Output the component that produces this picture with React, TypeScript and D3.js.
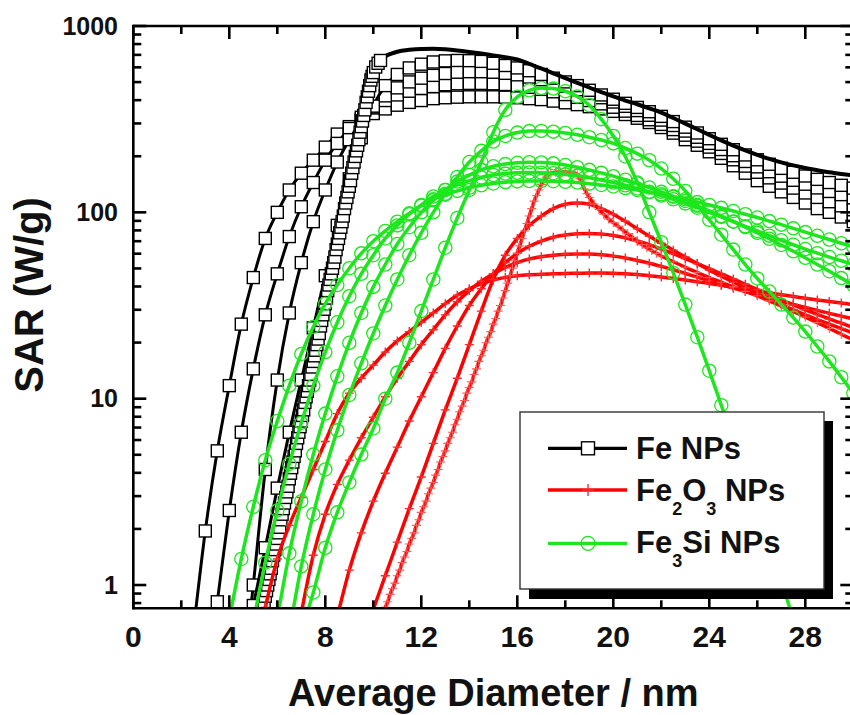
import React from "react";
import * as d3 from "d3";

const W = 850;
const H = 715;
const PLOT = { left: 133.3, right: 853.3, top: 26, bottom: 608.3 };

// ---- axes ----
const X_DOMAIN = [0, 30];
const Y_DOMAIN = [0.75, 1000];
const X_TICKS = [0, 4, 8, 12, 16, 20, 24, 28];
const X_MINOR = [2, 6, 10, 14, 18, 22, 26, 30];
const Y_TICKS = [1, 10, 100, 1000];
const Y_MINOR = [0.8, 0.9, 2, 3, 4, 5, 6, 7, 8, 9, 20, 30, 40, 50, 60, 70, 80, 90, 200, 300, 400, 500, 600, 700, 800, 900];

// ---- shared diameter grid (nm) ----
const DIAMETERS = [
  2.5, 3, 3.5, 4, 4.5, 5, 5.5, 6, 6.5, 7,
  7.5, 8, 8.5, 9, 9.5, 10, 10.5, 11, 11.5, 12,
  12.5, 13, 13.5, 14, 14.5, 15, 15.5, 16, 16.5, 17,
  17.5, 18, 18.5, 19, 19.5, 20, 20.5, 21, 21.5, 22,
  22.5, 23, 23.5, 24, 24.5, 25, 25.5, 26, 26.5, 27,
  27.5, 28, 28.5, 29, 29.5, 30,
];
const _ = null;

// ---- Fe NPs : log10(SAR, W/g) on DIAMETERS ----
const FE_S1 = [
  -0.25, 0.29, 0.72, 1.07, 1.40, 1.65, 1.86, 2.00, 2.12, 2.21,
  2.28, 2.35, 2.42, 2.46, 2.50, 2.53, 2.555, 2.575, 2.59, 2.60,
  2.61, 2.615, 2.618, 2.62, 2.62, 2.62, 2.618, 2.615, 2.61, 2.605,
  2.597, 2.588, 2.578, 2.567, 2.555, 2.542, 2.525, 2.505, 2.482, 2.455,
  2.425, 2.39, 2.36, 2.325, 2.29, 2.25, 2.21, 2.17, 2.14, 2.11,
  2.08, 2.05, 2.02, 2.0, 1.975, 1.95,
];
const FE_S2 = [
  _, -0.55, -0.09, 0.40, 0.82, 1.16, 1.45, 1.67, 1.87, 2.03,
  2.16, 2.28, 2.37, 2.45, 2.51, 2.56, 2.60, 2.63, 2.65, 2.665,
  2.675, 2.685, 2.69, 2.692, 2.692, 2.69, 2.686, 2.68, 2.671, 2.66,
  2.647, 2.632, 2.617, 2.6, 2.582, 2.564, 2.543, 2.52, 2.497, 2.472,
  2.444, 2.414, 2.382, 2.35, 2.316, 2.282, 2.248, 2.215, 2.185, 2.157,
  2.13, 2.104, 2.08, 2.057, 2.035, 2.015,
];
const FE_S3 = [
  _, _, _, _, -0.6, 0.0, 0.62, 1.1, 1.46, 1.73,
  1.95, 2.12, 2.27, 2.39, 2.49, 2.565, 2.625, 2.668, 2.70, 2.72,
  2.735, 2.745, 2.752, 2.755, 2.755, 2.752, 2.746, 2.738, 2.726, 2.712,
  2.695, 2.677, 2.658, 2.638, 2.615, 2.592, 2.569, 2.546, 2.521, 2.495,
  2.466, 2.436, 2.403, 2.37, 2.337, 2.304, 2.273, 2.244, 2.218, 2.194,
  2.172, 2.151, 2.131, 2.112, 2.095, 2.078,
];
const FE_S4 = [
  _, _, _, _, -0.4, -0.11, 0.2, 0.52, 0.82, 1.1,
  1.38, 1.66, 1.93, 2.18, 2.4, 2.57, 2.68, 2.74, 2.775, 2.795,
  2.807, 2.813, 2.815, 2.814, 2.81, 2.8, 2.788, 2.775, 2.76, 2.74,
  2.72, 2.7, 2.68, 2.655, 2.63, 2.607, 2.585, 2.563, 2.54, 2.515,
  2.487, 2.457, 2.426, 2.395, 2.365, 2.336, 2.308, 2.282, 2.258, 2.236,
  2.215, 2.195, 2.177, 2.16, 2.145, 2.13,
];
// narrowest Fe distribution: densely sampled [diameter, log10 SAR]
const FE_S5: [number, number][] = [
  [5.30, -0.19], [5.35, -0.16], [5.40, -0.13], [5.45, -0.10], [5.50, -0.06], [5.55, -0.03], [5.60, 0.00], [5.65, 0.03], [5.70, 0.06], [5.75, 0.09],
  [5.80, 0.13], [5.85, 0.16], [5.90, 0.19], [5.95, 0.22], [6.00, 0.25], [6.05, 0.28], [6.10, 0.31], [6.15, 0.35], [6.20, 0.38], [6.25, 0.41],
  [6.30, 0.44], [6.35, 0.47], [6.40, 0.50], [6.45, 0.53], [6.50, 0.57], [6.55, 0.60], [6.60, 0.63], [6.65, 0.66], [6.70, 0.69], [6.75, 0.72],
  [6.80, 0.76], [6.85, 0.79], [6.90, 0.82], [6.95, 0.85], [7.00, 0.88], [7.05, 0.91], [7.10, 0.94], [7.15, 0.98], [7.20, 1.01], [7.25, 1.04],
  [7.30, 1.07], [7.35, 1.10], [7.40, 1.13], [7.45, 1.17], [7.50, 1.20], [7.55, 1.23], [7.60, 1.26], [7.65, 1.29], [7.70, 1.32], [7.75, 1.35],
  [7.80, 1.39], [7.85, 1.42], [7.90, 1.45], [7.95, 1.48], [8.00, 1.51], [8.05, 1.54], [8.10, 1.58], [8.15, 1.61], [8.20, 1.64], [8.25, 1.67],
  [8.30, 1.70], [8.35, 1.73], [8.40, 1.76], [8.45, 1.80], [8.50, 1.83], [8.55, 1.86], [8.60, 1.89], [8.65, 1.92], [8.70, 1.95], [8.75, 1.98],
  [8.80, 2.02], [8.85, 2.05], [8.90, 2.08], [8.95, 2.11], [9.00, 2.14], [9.05, 2.17], [9.10, 2.21], [9.15, 2.24], [9.20, 2.27], [9.25, 2.30],
  [9.30, 2.33], [9.35, 2.36], [9.40, 2.39], [9.45, 2.43], [9.50, 2.46], [9.55, 2.49], [9.60, 2.52], [9.65, 2.55], [9.70, 2.59], [9.75, 2.62],
  [9.80, 2.65], [9.85, 2.68], [9.90, 2.71], [9.95, 2.73], [10.00, 2.75], [10.10, 2.78], [10.20, 2.80], [10.30, 2.815], [10.40, 2.827], [10.50, 2.837],
  [10.75, 2.852], [11.0, 2.862], [11.5, 2.872], [12.0, 2.877], [12.5, 2.878], [13.0, 2.875], [13.5, 2.869], [14.0, 2.861], [14.5, 2.852], [15.0, 2.842],
  [15.5, 2.832], [16.0, 2.82], [16.5, 2.797], [17.0, 2.772], [17.5, 2.746], [18.0, 2.72], [18.5, 2.695], [19.0, 2.67], [19.5, 2.645], [20.0, 2.622],
  [20.5, 2.6], [21.0, 2.58], [21.5, 2.558], [22.0, 2.535], [22.5, 2.506], [23.0, 2.476], [23.5, 2.446], [24.0, 2.416], [24.5, 2.386], [25.0, 2.358],
  [25.5, 2.332], [26.0, 2.308], [26.5, 2.287], [27.0, 2.268], [27.5, 2.252], [28.0, 2.238], [28.5, 2.226], [29.0, 2.215], [29.5, 2.206], [30.0, 2.198],
];

// ---- Fe2O3 NPs : log10(SAR) ----
const FE2O3_S1 = [
  _, _, _, _, _, -0.42, -0.12, 0.14, 0.32, 0.47,
  0.62, 0.77, 0.92, 1.03, 1.11, 1.18, 1.25, 1.31, 1.36, 1.41,
  1.46, 1.51, 1.555, 1.59, 1.617, 1.637, 1.651, 1.66, 1.665, 1.668,
  1.67, 1.672, 1.673, 1.674, 1.674, 1.673, 1.67, 1.666, 1.66, 1.653,
  1.645, 1.637, 1.628, 1.618, 1.608, 1.598, 1.588, 1.578, 1.568, 1.558,
  1.548, 1.539, 1.53, 1.521, 1.513, 1.505,
];
const FE2O3_S2 = [
  _, _, _, _, _, _, _, _, _, -0.15,
  0.16, 0.38, 0.54, 0.67, 0.79, 0.9, 1.01, 1.11, 1.2, 1.29,
  1.37, 1.45, 1.52, 1.58, 1.63, 1.67, 1.705, 1.73, 1.75, 1.762,
  1.77, 1.775, 1.777, 1.776, 1.772, 1.765, 1.755, 1.742, 1.727, 1.71,
  1.692, 1.672, 1.652, 1.632, 1.612, 1.593, 1.575, 1.557, 1.54, 1.523,
  1.506, 1.49, 1.474, 1.458, 1.443, 1.428,
];
const FE2O3_S3 = [
  _, _, _, _, _, _, _, _, _, _,
  _, _, -0.17, 0.08, 0.28, 0.45, 0.6, 0.74, 0.88, 1.01,
  1.14, 1.27, 1.39, 1.5, 1.59, 1.67, 1.73, 1.78, 1.818, 1.846,
  1.866, 1.878, 1.885, 1.887, 1.884, 1.876, 1.863, 1.846, 1.826, 1.803,
  1.778, 1.752, 1.725, 1.698, 1.67, 1.642, 1.614, 1.586, 1.558, 1.53,
  1.503, 1.477, 1.452, 1.428, 1.405, 1.382,
];
const FE2O3_S4 = [
  _, _, _, _, _, _, _, _, _, _,
  _, _, _, _, _, -0.13, 0.05, 0.23, 0.41, 0.58,
  0.76, 0.94, 1.11, 1.29, 1.47, 1.64, 1.77, 1.86, 1.93, 1.98,
  2.02, 2.043, 2.05, 2.043, 2.02, 1.99, 1.952, 1.912, 1.872, 1.834,
  1.797, 1.76, 1.725, 1.69, 1.657, 1.625, 1.594, 1.564, 1.534, 1.505,
  1.477, 1.45, 1.424, 1.4, 1.376, 1.352,
];
// narrowest Fe2O3 distribution: densely sampled [diameter, log10 SAR]
const FE2O3_S5: [number, number][] = [
  [10.4, -0.15], [10.5, -0.12], [10.6, -0.09], [10.7, -0.05], [10.8, -0.02], [10.9, 0.01], [11.0, 0.05], [11.1, 0.08], [11.2, 0.12], [11.3, 0.15],
  [11.4, 0.18], [11.5, 0.22], [11.6, 0.25], [11.7, 0.28], [11.8, 0.32], [11.9, 0.35], [12.0, 0.39], [12.1, 0.42], [12.2, 0.45], [12.3, 0.49],
  [12.4, 0.52], [12.5, 0.55], [12.6, 0.59], [12.7, 0.62], [12.8, 0.66], [12.9, 0.69], [13.0, 0.72], [13.1, 0.76], [13.2, 0.79], [13.3, 0.82],
  [13.4, 0.86], [13.5, 0.89], [13.6, 0.93], [13.7, 0.96], [13.8, 0.99], [13.9, 1.03], [14.0, 1.06], [14.1, 1.09], [14.2, 1.13], [14.3, 1.16],
  [14.4, 1.20], [14.5, 1.23], [14.6, 1.26], [14.7, 1.30], [14.8, 1.33], [14.9, 1.36], [15.0, 1.40], [15.1, 1.43], [15.2, 1.47], [15.3, 1.50],
  [15.4, 1.54], [15.5, 1.58], [15.6, 1.62], [15.7, 1.66], [15.8, 1.70], [15.9, 1.74], [16.0, 1.78], [16.1, 1.82], [16.2, 1.86], [16.3, 1.90],
  [16.4, 1.94], [16.5, 1.98], [16.6, 2.02], [16.7, 2.06], [16.8, 2.09], [16.9, 2.12], [17.0, 2.15], [17.1, 2.17], [17.2, 2.19], [17.3, 2.203],
  [17.4, 2.21], [17.6, 2.215], [17.8, 2.217], [18.0, 2.217], [18.2, 2.215], [18.4, 2.21], [18.5, 2.2], [18.6, 2.18], [18.7, 2.155], [18.8, 2.125],
  [18.9, 2.1], [19.0, 2.08], [19.2, 2.045], [19.4, 2.015], [19.6, 1.99], [19.8, 1.965], [20.0, 1.945], [20.2, 1.925], [20.4, 1.905], [20.6, 1.885],
  [20.8, 1.865], [21.0, 1.845], [21.2, 1.827], [21.4, 1.81], [21.6, 1.795], [21.8, 1.78], [22.0, 1.766], [22.5, 1.735], [23.0, 1.705], [23.5, 1.677],
  [24.0, 1.65], [24.5, 1.625], [25.0, 1.6], [25.5, 1.576], [26.0, 1.552], [26.5, 1.525], [27.0, 1.497], [27.5, 1.468], [28.0, 1.438], [28.5, 1.408],
  [29.0, 1.377], [29.5, 1.346], [30.0, 1.315],
];

// ---- Fe3Si NPs : log10(SAR) ----
const FE3SI_S1 = [
  _, _, -0.5, -0.18, 0.14, 0.42, 0.67, 0.88, 1.07, 1.24,
  1.385, 1.51, 1.61, 1.7, 1.78, 1.845, 1.9, 1.95, 1.995, 2.035,
  2.07, 2.095, 2.115, 2.132, 2.145, 2.155, 2.162, 2.166, 2.168, 2.168,
  2.167, 2.164, 2.16, 2.154, 2.147, 2.139, 2.13, 2.12, 2.109, 2.097,
  2.084, 2.07, 2.055, 2.04, 2.024, 2.007, 1.99, 1.972, 1.953, 1.934,
  1.914, 1.894, 1.874, 1.854, 1.834, 1.815,
];
const FE3SI_S2 = [
  _, _, _, _, _, -0.2, 0.12, 0.4, 0.65, 0.87,
  1.07, 1.25, 1.41, 1.55, 1.67, 1.77, 1.86, 1.93, 1.99, 2.04,
  2.085, 2.12, 2.148, 2.17, 2.187, 2.2, 2.208, 2.212, 2.214, 2.213,
  2.21, 2.204, 2.196, 2.186, 2.174, 2.16, 2.145, 2.128, 2.11, 2.09,
  2.07, 2.048, 2.025, 2.0, 1.975, 1.95, 1.925, 1.9, 1.875, 1.85,
  1.826, 1.803, 1.781, 1.76, 1.74, 1.72,
];
const FE3SI_S3 = [
  _, _, _, _, _, _, _, -0.18, 0.17, 0.45,
  0.7, 0.92, 1.12, 1.3, 1.46, 1.6, 1.72, 1.83, 1.92, 2.0,
  2.065, 2.12, 2.165, 2.2, 2.228, 2.247, 2.259, 2.266, 2.269, 2.268,
  2.263, 2.254, 2.242, 2.228, 2.212, 2.194, 2.175, 2.155, 2.133, 2.11,
  2.086, 2.061, 2.035, 2.008, 1.98, 1.951, 1.921, 1.89, 1.858, 1.825,
  1.791, 1.756, 1.72, 1.684, 1.647, 1.61,
];
const FE3SI_S4 = [
  _, _, _, _, _, _, _, _, -0.25, 0.1,
  0.38, 0.62, 0.83, 1.02, 1.19, 1.35, 1.5, 1.64, 1.77, 1.89,
  2.0, 2.1, 2.19, 2.27, 2.33, 2.38, 2.41, 2.428, 2.436, 2.437,
  2.433, 2.426, 2.416, 2.403, 2.388, 2.37, 2.345, 2.315, 2.28, 2.235,
  2.18, 2.115, 2.04, 1.96, 1.88, 1.8, 1.72, 1.645, 1.575, 1.505,
  1.435, 1.36, 1.28, 1.2, 1.115, 1.03,
];
const FE3SI_S5 = [
  _, _, _, _, _, _, _, _, _, -0.25,
  -0.04, 0.2, 0.39, 0.55, 0.7, 0.84, 1.0, 1.14, 1.3, 1.47,
  1.64, 1.81, 1.97, 2.12, 2.27, 2.43, 2.55, 2.62, 2.655, 2.667,
  2.664, 2.65, 2.622, 2.575, 2.5, 2.41, 2.3, 2.16, 2.0, 1.84,
  1.675, 1.505, 1.33, 1.15, 0.965, 0.78, 0.6, 0.42, 0.23, 0.02,
  -0.18, -0.38, _, _, _, _,
];

type Pt = [number, number];
const fromGrid = (logs: (number | null)[]): Pt[] =>
  DIAMETERS.flatMap((d, i) => (logs[i] == null ? [] : [[d, Math.pow(10, logs[i] as number)] as Pt]));
const fromPairs = (pairs: [number, number][]): Pt[] => pairs.map(([d, l]) => [d, Math.pow(10, l)] as Pt);

const BLACK = "#000000";
const RED = "#ff0000";
const GREEN = "#1ee61e";

type Curve = { pts: Pt[]; width: number; markMax?: number; dense?: boolean };

const FE_CURVES: Curve[] = [
  { pts: fromGrid(FE_S1), width: 3 },
  { pts: fromGrid(FE_S2), width: 3 },
  { pts: fromGrid(FE_S3), width: 3 },
  { pts: fromGrid(FE_S4), width: 3 },
  { pts: fromPairs(FE_S5), width: 4, markMax: 10.3 },
];
const FE2O3_CURVES: Curve[] = [
  { pts: fromGrid(FE2O3_S1), width: 3.5 },
  { pts: fromGrid(FE2O3_S2), width: 3.5 },
  { pts: fromGrid(FE2O3_S3), width: 3.5 },
  { pts: fromGrid(FE2O3_S4), width: 3.5 },
  { pts: fromPairs(FE2O3_S5), width: 3.5, dense: true },
];
const FE3SI_CURVES: Curve[] = [
  { pts: fromGrid(FE3SI_S1), width: 3.5 },
  { pts: fromGrid(FE3SI_S2), width: 3.5 },
  { pts: fromGrid(FE3SI_S3), width: 3.5 },
  { pts: fromGrid(FE3SI_S4), width: 3.5 },
  { pts: fromGrid(FE3SI_S5), width: 3.5 },
];

const FONT = "'Liberation Sans', Arial, Helvetica, sans-serif";

function Square({ cx, cy, s = 12 }: { cx: number; cy: number; s?: number }) {
  return <rect x={cx - s / 2} y={cy - s / 2} width={s} height={s} fill="#fff" stroke="#000" strokeWidth={1.4} />;
}
function Plus({ cx, cy, s = 4.5, color = "#ff2a2a", w = 1.4 }: { cx: number; cy: number; s?: number; color?: string; w?: number }) {
  return <path d={`M${cx - s},${cy}H${cx + s}M${cx},${cy - s}V${cy + s}`} stroke={color} strokeWidth={w} fill="none" />;
}
function Ring({ cx, cy, r = 6.6 }: { cx: number; cy: number; r?: number }) {
  return <circle cx={cx} cy={cy} r={r} fill="none" stroke={GREEN} strokeWidth={1.3} />;
}

export default function App() {
  const x = d3.scaleLinear().domain(X_DOMAIN).range([PLOT.left, PLOT.right]);
  const y = d3.scaleLog().domain(Y_DOMAIN).range([PLOT.bottom, PLOT.top]);
  const line = d3
    .line<Pt>()
    .x((d) => x(d[0]))
    .y((d) => y(d[1]))
    .curve(d3.curveMonotoneX);

  const majorLen = 13;
  const minorLen = 8;
  const axisW = 2.6;

  return (
    <svg
      width={W}
      height={H}
      style={{ position: "absolute", left: 0, top: 0, display: "block", background: "#fff" }}
      fontFamily={FONT}
      fontWeight="bold"
    >
      <defs>
        <clipPath id="plotClip">
          <rect x={PLOT.left} y={PLOT.top} width={PLOT.right - PLOT.left} height={PLOT.bottom - PLOT.top} />
        </clipPath>
      </defs>
      <rect x={0} y={0} width={W} height={H} fill="#fff" />

      <g clipPath="url(#plotClip)">
        {/* Fe NPs */}
        {FE_CURVES.map((c, ci) => (
          <g key={`fe${ci}`}>
            <path d={line(c.pts) || ""} fill="none" stroke={BLACK} strokeWidth={c.width} />
            {c.pts
              .filter((p) => c.markMax == null || p[0] <= c.markMax)
              .map((p, i) => (
                <Square key={i} cx={x(p[0])} cy={y(p[1])} />
              ))}
          </g>
        ))}
        {/* Fe2O3 NPs */}
        {FE2O3_CURVES.map((c, ci) => (
          <g key={`fo${ci}`}>
            <path d={line(c.pts) || ""} fill="none" stroke={RED} strokeWidth={c.width} />
            {c.pts.map((p, i) => (
              <Plus
                key={i}
                cx={x(p[0])}
                cy={y(p[1])}
                color={c.dense ? "#ff5a5a" : "#ff2a2a"}
                w={c.dense ? 1.1 : 1.4}
              />
            ))}
          </g>
        ))}
        {/* Fe3Si NPs */}
        {FE3SI_CURVES.map((c, ci) => (
          <g key={`fs${ci}`}>
            <path d={line(c.pts) || ""} fill="none" stroke={GREEN} strokeWidth={c.width} />
            {c.pts.map((p, i) => (
              <Ring key={i} cx={x(p[0])} cy={y(p[1])} />
            ))}
          </g>
        ))}
      </g>

      {/* frame */}
      <g stroke="#000" strokeWidth={axisW} fill="none">
        <line x1={PLOT.left} x2={PLOT.right + 2} y1={PLOT.top} y2={PLOT.top} />
        <line x1={PLOT.left} x2={PLOT.right + 2} y1={PLOT.bottom} y2={PLOT.bottom} />
        <line x1={PLOT.left} x2={PLOT.left} y1={PLOT.top - 1.3} y2={PLOT.bottom + 1.3} />
        <line x1={PLOT.right} x2={PLOT.right} y1={PLOT.top - 1.3} y2={PLOT.bottom + 1.3} />
        {X_TICKS.map((t) => (
          <g key={`xt${t}`}>
            <line x1={x(t)} x2={x(t)} y1={PLOT.bottom} y2={PLOT.bottom - majorLen} />
            <line x1={x(t)} x2={x(t)} y1={PLOT.top} y2={PLOT.top + majorLen} />
          </g>
        ))}
        {X_MINOR.map((t) => (
          <g key={`xm${t}`}>
            <line x1={x(t)} x2={x(t)} y1={PLOT.bottom} y2={PLOT.bottom - minorLen} />
            <line x1={x(t)} x2={x(t)} y1={PLOT.top} y2={PLOT.top + minorLen} />
          </g>
        ))}
        {Y_TICKS.map((t) => (
          <g key={`yt${t}`}>
            <line x1={PLOT.left} x2={PLOT.left + majorLen} y1={y(t)} y2={y(t)} />
            <line x1={PLOT.right} x2={PLOT.right - majorLen} y1={y(t)} y2={y(t)} />
          </g>
        ))}
        {Y_MINOR.map((t) => (
          <g key={`ym${t}`}>
            <line x1={PLOT.left} x2={PLOT.left + minorLen} y1={y(t)} y2={y(t)} />
            <line x1={PLOT.right} x2={PLOT.right - minorLen} y1={y(t)} y2={y(t)} />
          </g>
        ))}
      </g>

      {/* tick labels */}
      {X_TICKS.map((t) => (
        <text key={`xl${t}`} x={x(t)} y={647} textAnchor="middle" fontSize={30} fill="#111">
          {t}
        </text>
      ))}
      {Y_TICKS.map((t) => (
        <text key={`yl${t}`} x={118} y={y(t)} dy="0.35em" textAnchor="end" fontSize={25} fill="#111">
          {t}
        </text>
      ))}

      {/* axis titles */}
      <text x={(PLOT.left + PLOT.right) / 2} y={706} textAnchor="middle" fontSize={38} fill="#111">
        Average Diameter / nm
      </text>
      <text transform="translate(43,295) rotate(-90)" textAnchor="middle" fontSize={40} fill="#111">
        SAR (W/g)
      </text>

      {/* legend */}
      <g>
        <rect x={529} y={421} width={304} height={178} fill="#000" />
        <rect x={520} y={412} width={304} height={177} fill="#fff" stroke="#333" strokeWidth={1.4} />
        <line x1={548} x2={627} y1={448.3} y2={448.3} stroke={BLACK} strokeWidth={3.3} />
        <Square cx={588} cy={448.3} s={13} />
        <line x1={548} x2={627} y1={490} y2={490} stroke={RED} strokeWidth={3.3} />
        <Plus cx={588} cy={490} s={6} color="#ff2a2a" w={1.4} />
        <line x1={548} x2={627} y1={543.3} y2={543.3} stroke={GREEN} strokeWidth={3.3} />
        <Ring cx={588} cy={543.3} r={7} />
        <text x={636} y={459} fontSize={31} fill="#111">
          Fe NPs
        </text>
        <text x={636} y={500.7} fontSize={31} fill="#111">
          Fe
          <tspan fontSize={18} dy={14}>2</tspan>
          <tspan dy={-14}>O</tspan>
          <tspan fontSize={18} dy={14}>3</tspan>
          <tspan dy={-14}> NPs</tspan>
        </text>
        <text x={636} y={553.3} fontSize={31} fill="#111">
          Fe
          <tspan fontSize={18} dy={13.4}>3</tspan>
          <tspan dy={-13.4}>Si NPs</tspan>
        </text>
      </g>
    </svg>
  );
}
